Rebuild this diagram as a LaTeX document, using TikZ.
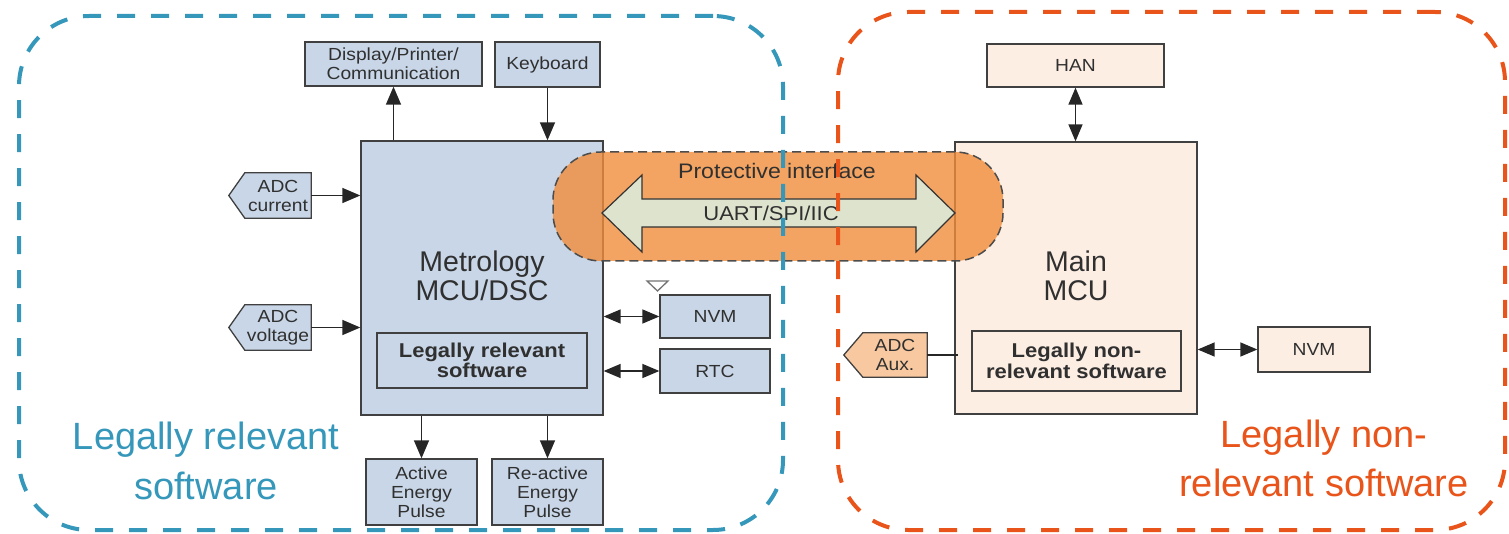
\documentclass[tikz,border=0pt]{standalone}
\usepackage{fontspec}
\setmainfont{Liberation Sans}
\newfontfamily\sfont[FakeStretch=1.1]{Liberation Sans}
\usetikzlibrary{arrows.meta,calc}
\definecolor{bluefill}{HTML}{C8D6E7}
\definecolor{peachfill}{HTML}{FDEEE3}
\definecolor{auxfill}{HTML}{F8C9A0}
\definecolor{edge}{HTML}{404040}
\definecolor{txt}{HTML}{303030}
\definecolor{pillfill}{HTML}{F18D3B}
\definecolor{arrfill}{HTML}{DDE3CC}
\definecolor{relblue}{HTML}{3597BA}
\definecolor{nonorange}{HTML}{E8541A}
\begin{document}
\begin{tikzpicture}[x=1pt,y=-1pt,
  box/.style={draw=edge, line width=1.3pt, inner sep=0pt, text=txt, align=center,
    font=\sfont\fontsize{17.5}{19}\selectfont},
  bbox/.style={box, fill=bluefill},
  pbox/.style={box, fill=peachfill},
  inbox/.style={box, font=\sfont\bfseries\fontsize{20}{20.5}\selectfont},
  lbl/.style={inner sep=0pt, text=txt, align=center},
  conn/.style={draw=black!85, line width=1.4pt},
  tip/.style={-{Triangle[length=18pt,width=15pt]}},
  dtip/.style={{Triangle[length=17pt,width=14pt]}-{Triangle[length=17pt,width=14pt]}},
  region/.style={line width=4pt, dash pattern=on 18pt off 16pt, rounded corners=70pt}
]
\useasboundingbox (0,0) rectangle (1509,534);

% ---------- Metrology side ----------
\node[bbox, minimum width=242pt, minimum height=274pt] (met) at (482,278) {};
\node[lbl, font=\fontsize{28.5}{29}\selectfont] (mettxt) at (482,276) {Metrology\\MCU/DSC};
\node[inbox, fill=bluefill, minimum width=210pt, minimum height=55pt] (lrs) at (482,360.5) {Legally relevant\\software};

\node[bbox, minimum width=177pt, minimum height=44pt] (disp) at (393.5,64) {Display/Printer/\\Communication};
\node[bbox, minimum width=105pt, minimum height=45pt] (kb) at (547.5,64.5) {Keyboard};

\node[lbl, minimum width=66pt, minimum height=45pt] (adcc) at (278,195.5) {};
\node[lbl, minimum width=66pt, minimum height=45pt] (adcv) at (278,327.5) {};
\path[fill=bluefill, draw=edge, line width=1.3pt]
  (adcc.north west) -- (adcc.north east) -- (adcc.south east) -- (adcc.south west) -- ($(adcc.west)+(-16,0)$) -- cycle;
\path[fill=bluefill, draw=edge, line width=1.3pt]
  (adcv.north west) -- (adcv.north east) -- (adcv.south east) -- (adcv.south west) -- ($(adcv.west)+(-16,0)$) -- cycle;
\node[lbl, font=\sfont\fontsize{17.5}{19}\selectfont] (adcctxt) at (adcc) {ADC\\current};
\node[lbl, font=\sfont\fontsize{17.5}{19}\selectfont] (adcvtxt) at (adcv) {ADC\\voltage};

\node[bbox, minimum width=110pt, minimum height=43pt] (nvml) at (715,316.5) {NVM};
\node[bbox, minimum width=110pt, minimum height=44pt] (rtc) at (715,371) {RTC};
\node[bbox, minimum width=111pt, minimum height=66pt] (act) at (421.5,492) {Active\\Energy\\Pulse};
\node[bbox, minimum width=111pt, minimum height=66pt] (ract) at (547.5,492) {Re-active\\Energy\\Pulse};

% small triangle above NVM
\draw[draw=black!55, line width=1.3pt, fill=white] (647,281) -- (668,281) -- (657.5,291) -- cycle;

% connectors (metrology)
\draw[conn, tip] (disp.south |- met.north) -- (disp.south);
\draw[conn, tip] (kb.south) -- (kb.south |- met.north);
\draw[conn, tip] (adcc.east) -- (adcc.east -| met.west);
\draw[conn, tip] (adcv.east) -- (adcv.east -| met.west);
\draw[conn, dtip] (met.east |- nvml.west) -- (nvml.west);
\draw[conn, dtip] (met.east |- rtc.west) -- (rtc.west);
\draw[conn, tip] (act.north |- met.south) -- (act.north);
\draw[conn, tip] (ract.north |- met.south) -- (ract.north);

% ---------- Main MCU side ----------
\node[pbox, minimum width=242pt, minimum height=272pt] (main) at (1076,278) {};
\node[lbl, font=\fontsize{28.5}{29}\selectfont] (maintxt) at (1076,276) {Main\\MCU};
\node[inbox, fill=peachfill, minimum width=209pt, minimum height=60pt] (nrs) at (1076.5,361) {Legally non-\\relevant software};
\node[pbox, minimum width=177pt, minimum height=43pt] (han) at (1075.5,65.5) {HAN};
\node[pbox, minimum width=112pt, minimum height=45pt] (nvmr) at (1314,349.5) {NVM};
\node[lbl, minimum width=64pt, minimum height=44pt] (aux) at (895,355) {};
\path[fill=auxfill, draw=edge, line width=1.3pt]
  (aux.north west) -- (aux.north east) -- (aux.south east) -- (aux.south west) -- ($(aux.west)+(-19,0)$) -- cycle;
\node[lbl, font=\sfont\fontsize{17.5}{19}\selectfont] (auxtxt) at (aux) {ADC\\Aux.};

\draw[conn, dtip] (han.south) -- (han.south |- main.north);
\draw[conn, dtip] (main.east |- nvmr.west) -- (nvmr.west);
\draw[conn] (aux.east) -- ($(aux.east -| main.west)+(4,0)$);

% ---------- Protective interface ----------
\node[draw=black!70, line width=1.5pt, dash pattern=on 9pt off 5pt, fill=pillfill, fill opacity=0.8,
      rounded corners=48pt, minimum width=450pt, minimum height=109pt, inner sep=0pt] (prot) at (778,206.5) {};
\coordinate (lt) at (602,213);
\coordinate (rt) at (955,213);
\path[fill=arrfill, draw=black!80, line width=1.2pt]
  (lt) -- (642,175) -- (642,199) -- (916,199) -- (916,175) -- (rt)
  -- (916,252) -- (916,227) -- (642,227) -- (642,252) -- cycle;
\node[lbl, font=\sfont\fontsize{21}{22}\selectfont] (ptxt) at (777,171) {Protective interface};
\node[lbl, font=\sfont\fontsize{20}{21}\selectfont] (utxt) at (771,213) {UART/SPI/IIC};

% ---------- Regions ----------
\node[draw=relblue, region, minimum width=764pt, minimum height=514pt, inner sep=0pt] (relreg) at (401,273) {};
\node[draw=nonorange, region, minimum width=667pt, minimum height=518pt, inner sep=0pt] (nonreg) at (1171.5,271) {};

\node[lbl, text=relblue, font=\fontsize{38}{50}\selectfont] (rellbl) at (206,461) {Legally relevant\\software};
\node[lbl, text=nonorange, font=\fontsize{38}{49}\selectfont] (nonlbl) at (1324,458.5) {Legally non-\\relevant software};
\end{tikzpicture}
\end{document}
